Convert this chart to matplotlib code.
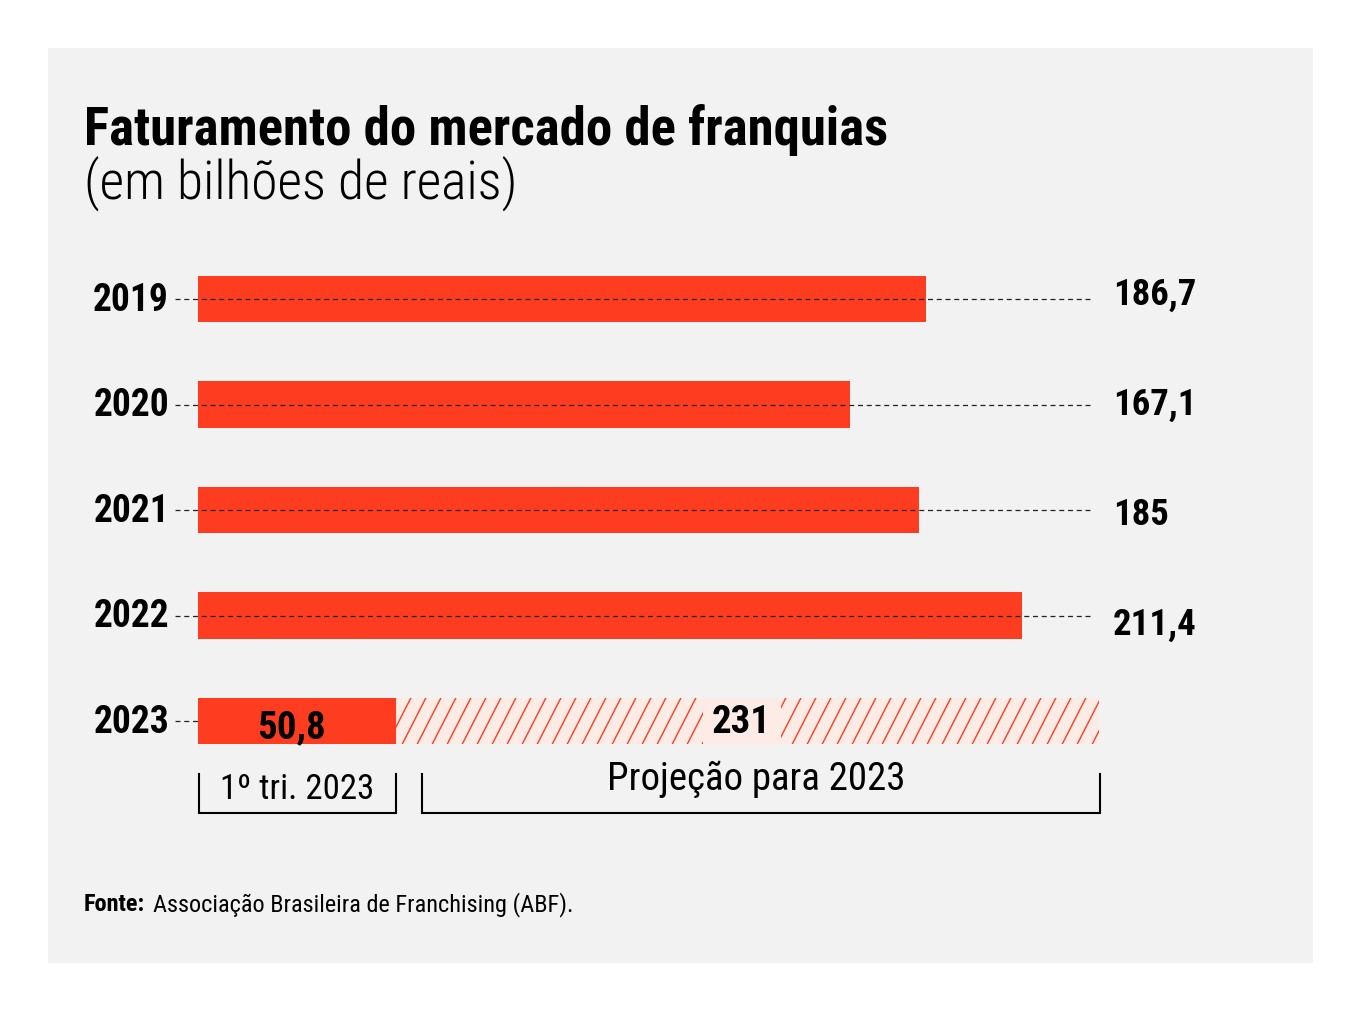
import matplotlib
matplotlib.use("Agg")
import matplotlib.pyplot as plt
from matplotlib.patches import Rectangle
from matplotlib.collections import LineCollection
from matplotlib import font_manager as fm
import numpy as np

# ---- data ----
years = ["2019", "2020", "2021", "2022", "2023"]
values = [186.7, 167.1, 185.0, 211.4]
q1_2023 = 50.8
proj_2023 = 231.0
title = "Faturamento do mercado de franquias"
subtitle = "(em bilhões de reais)"
q1_label = "1º tri. 2023"
proj_label = "Projeção para 2023"
source_bold = "Fonte:"
source_text = "Associação Brasileira de Franchising (ABF)."

def fmt(v):
    if abs(v - round(v)) < 1e-9:
        return f"{int(round(v))}"
    return f"{v:.1f}".replace(".", ",")

# ---- font choice: prefer a condensed face ----
entries = fm.fontManager.ttflist
names = {f.name for f in entries}
FAMILY, STRETCH = "DejaVu Sans", "normal"
for cand in ["Roboto Condensed", "Barlow Condensed", "Open Sans Condensed",
             "Liberation Sans Narrow", "Noto Sans Display"]:
    if cand in names:
        FAMILY = cand
        break
else:
    for fam in ["Roboto", "Noto Sans", "Open Sans", "DejaVu Sans"]:
        if any(f.name == fam and ("ondensed" in f.fname or str(f.stretch) in
               ("condensed", "semi-condensed", "extra-condensed", "75", "87.5"))
               for f in entries):
            FAMILY, STRETCH = fam, "condensed"
            break
    else:
        FAMILY = "Roboto" if "Roboto" in names else "DejaVu Sans"

plt.rcParams["font.family"] = [FAMILY, "DejaVu Sans"]
plt.rcParams["font.stretch"] = STRETCH

# ---- style ----
W, H = 1361, 1014
RED = "#fe3d20"
PINK = "#fdebe5"
PANEL = "#f2f2f2"

fig = plt.figure(figsize=(W / 100, H / 100), dpi=100)
fig.patch.set_facecolor("white")
fig.patches.append(Rectangle((48 / W, 1 - 963 / H), 1265 / W, 915 / H,
                             transform=fig.transFigure, facecolor=PANEL,
                             edgecolor="none", zorder=-10))

px_per_unit = 3.899
ax_left, ax_right = 198, 1099
ax = fig.add_axes([ax_left / W, 1 - 773.75 / H, (ax_right - ax_left) / W, 527.5 / H])
ax.set_zorder(1)
ax.set_xlim(0, (ax_right - ax_left) / px_per_unit)
ax.set_ylim(4.5, -0.5)
ax.axis("off")
ax.patch.set_alpha(0)

def px2x(px):
    return (px - ax_left) / px_per_unit

bar_h = 0.445
ys = np.arange(len(years))

# dashed guide lines
for i in range(len(values)):
    ax.plot([px2x(175), px2x(1090)], [ys[i], ys[i]], color="#222222", lw=0.9,
            dashes=(4, 3), clip_on=False, zorder=3)
ax.plot([px2x(175), px2x(1090)], [ys[4], ys[4]], color="#222222", lw=0.9,
        dashes=(4, 3), clip_on=False, zorder=1)

# bars
ax.barh(ys[:4], values, height=bar_h, color=RED, zorder=2)
ax.barh([ys[4]], [q1_2023], height=bar_h, color=RED, zorder=2)
proj = ax.barh([ys[4]], [proj_2023 - q1_2023], left=[q1_2023], height=bar_h,
               color=PINK, zorder=2)[0]

# custom slanted hatch clipped to projection bar
spacing = 15 / px_per_unit
slant = 24 / px_per_unit
segs = []
x0 = q1_2023 - slant
while x0 < proj_2023 + slant:
    segs.append([(x0, ys[4] + bar_h / 2), (x0 + slant, ys[4] - bar_h / 2)])
    x0 += spacing
lc = LineCollection(segs, colors=RED, linewidths=1.0, zorder=2.5)
ax.add_collection(lc)
lc.set_clip_path(proj)

# year labels
for i, y in enumerate(years):
    ax.text(px2x(169), ys[i] + 0.01, y, ha="right", va="center", fontsize=27,
            fontweight="bold", color="black", clip_on=False)

# value labels
for i, v in enumerate(values):
    ax.text(px2x(1113), ys[i] - 0.04 + i * 0.043, fmt(v), ha="left", va="center",
            fontsize=26.5, fontweight="bold", color="black", clip_on=False)

# 2023 labels
ax.text(q1_2023 / 2 - 1.5, ys[4] + 0.06, fmt(q1_2023), ha="center", va="center",
        fontsize=28, fontweight="bold", color="black", zorder=5)
cx = (q1_2023 + proj_2023) / 2 - 1.5
ax.add_patch(Rectangle((cx - 10, ys[4] - bar_h / 2), 20, bar_h, facecolor=PINK,
                       edgecolor="none", zorder=4))
ax.text(cx, ys[4] + 0.01, fmt(proj_2023), ha="center", va="center",
        fontsize=28, fontweight="bold", color="black", zorder=5)

# brackets
gap = 6.7
yb_top, yb_bot = 4.50, 4.87
for a, b in [(0.3, q1_2023), (q1_2023 + gap, proj_2023 + 0.3)]:
    ax.plot([a, a, b, b], [yb_top, yb_bot, yb_bot, yb_top], color="black",
            lw=1.5, clip_on=False, solid_joinstyle="miter")
ax.text(q1_2023 / 2, 4.645, q1_label, ha="center", va="center", fontsize=25,
        color="black", clip_on=False)
ax.text((q1_2023 + gap + proj_2023) / 2 - 1, 4.55, proj_label, ha="center",
        va="center", fontsize=28, color="black", clip_on=False)

# titles
fig.text(84 / W, 1 - 145 / H, title, ha="left", va="baseline", fontsize=38,
         fontweight="bold", color="black")
fig.text(84 / W, 1 - 200 / H, subtitle, ha="left", va="baseline", fontsize=38.5,
         fontweight="light", color="black")

# source
fig.text(84 / W, 1 - 911 / H, source_bold, ha="left", va="baseline", fontsize=17.5,
         fontweight="bold", color="black")
fig.text(153 / W, 1 - 911 / H, source_text, ha="left", va="baseline", fontsize=17.5,
         color="black")

fig.savefig("out.png", dpi=100)
